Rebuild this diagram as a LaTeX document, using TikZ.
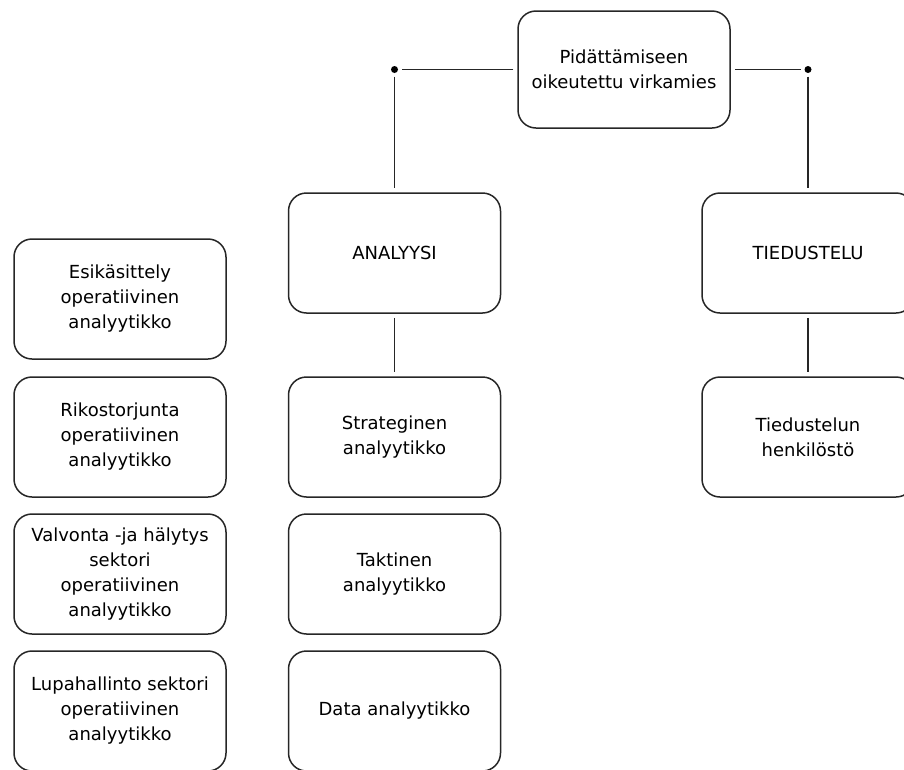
\documentclass[tikz,border=0pt]{standalone}
\usepackage{fontspec}
\setmainfont{DejaVu Sans}
\begin{document}
\begin{tikzpicture}[
    x=1pt, y=1pt,
    node distance=137pt,
    unit/.style={rectangle, rounded corners=18pt, minimum width=212pt, minimum height=120pt, text centered, align=center, draw=black!85, line width=1.5pt, font=\fontsize{18pt}{25pt}\selectfont},
    link/.style={draw=black!85, line width=1.5pt, shorten <=4pt, shorten >=4pt},
    knot/.style={fill=black}
]
\useasboundingbox (0,0) rectangle (904,-769);

% Head
\node (virkamies) [unit, minimum height=117pt] at (624,-69.5) {Pidättämiseen\\oikeutettu virkamies};

% Level 1
\node (analyysi) [unit, below of=virkamies, xshift=-229.5pt, yshift=-46.5pt] {ANALYYSI};
\node (tiedustelu) [unit, below of=virkamies, xshift=184pt, yshift=-46.5pt] {TIEDUSTELU};

% Analyysi
\node (strateginen) [unit, below of=analyysi, yshift=-47pt] {Strateginen\\analyytikko};
\node (taktinen) [unit, below of=strateginen] {Taktinen\\analyytikko};
\node (data) [unit, below of=taktinen] {Data analyytikko};

% Tiedustelu
\node (henkilosto) [unit, below of=tiedustelu, yshift=-47pt] {Tiedustelun\\henkilöstö};

% Operatiiviset
\node (rikostorjunta) [unit, left of=strateginen, xshift=-137.5pt] {Rikostorjunta\\operatiivinen\\analyytikko};
\node (esikasittely) [unit, above of=rikostorjunta, yshift=1pt] {Esikäsittely\\operatiivinen\\analyytikko};
\node (valvonta) [unit, below of=rikostorjunta] {Valvonta -ja hälytys\\sektori\\operatiivinen\\analyytikko};
\node (lupahallinto) [unit, below of=valvonta] {Lupahallinto sektori\\operatiivinen\\analyytikko};

% Links
\coordinate (lknot) at (analyysi |- virkamies);
\coordinate (rknot) at (tiedustelu |- virkamies);
\draw[link, shorten >=7pt] (virkamies.west) -- (lknot);
\draw[link, shorten <=7pt] (lknot) -- (analyysi.north);
\draw[link, shorten >=7pt] (virkamies.east) -- (rknot);
\draw[link, shorten <=7pt] (rknot) -- (tiedustelu.north);
\fill[knot] (lknot) circle (3.5pt);
\fill[knot] (rknot) circle (3.5pt);
\draw[link] (analyysi) -- (strateginen);
\draw[link] (tiedustelu) -- (henkilosto);

\end{tikzpicture}
\end{document}
